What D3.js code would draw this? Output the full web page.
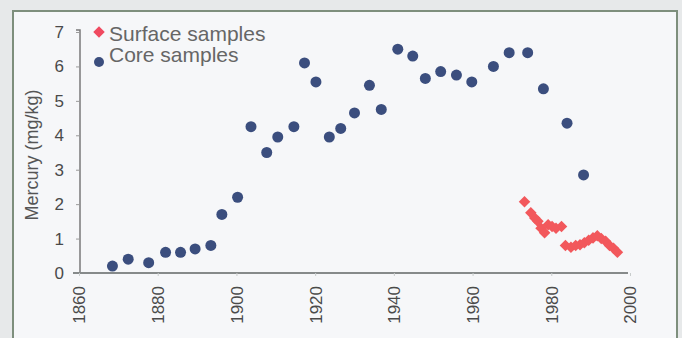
<!DOCTYPE html>
<html>
<head>
<meta charset="utf-8">
<script src="https://cdnjs.cloudflare.com/ajax/libs/d3/7.8.5/d3.min.js"></script>
<style>
  body { margin: 0; background: #e7e9ea; }
  text { font-family: "Liberation Sans", Arial, sans-serif; }
</style>
</head>
<body>
<div class="chart"></div>
<script>
// core samples (year, mercury mg/kg)
var coreYears = [1868.5, 1872.5, 1877.7, 1882, 1885.8, 1889.5, 1893.5, 1896.3, 1900.3, 1903.7,
  1907.7, 1910.5, 1914.6, 1917.3, 1920.2, 1923.6, 1926.5, 1930, 1933.8, 1936.8,
  1941, 1944.8, 1948, 1951.9, 1955.9, 1959.8, 1965.3, 1969.3, 1974, 1978, 1984, 1988.2];
var coreValues = [0.2, 0.4, 0.3, 0.6, 0.6, 0.7, 0.8, 1.7, 2.2, 4.25,
  3.5, 3.95, 4.25, 6.1, 5.55, 3.95, 4.2, 4.65, 5.45, 4.75,
  6.5, 6.3, 5.65, 5.85, 5.75, 5.55, 6.0, 6.4, 6.4, 5.35, 4.35, 2.85];

// surface samples
var surfaceYears = [1973.2, 1974.8, 1975.8, 1976.6, 1977.4, 1978.3, 1979.2, 1980.2, 1981.2, 1982.6,
  1983.6, 1985, 1986.2, 1987.3, 1988.4, 1989.5, 1990.6, 1991.7, 1992.7, 1993.8,
  1994.8, 1995.8, 1996.8];
var surfaceValues = [2.07, 1.75, 1.6, 1.5, 1.3, 1.17, 1.4, 1.35, 1.3, 1.35,
  0.8, 0.75, 0.8, 0.82, 0.88, 0.95, 1.02, 1.08, 1.0, 0.92,
  0.8, 0.72, 0.6];

var yearTicks = [1860, 1880, 1900, 1920, 1940, 1960, 1980, 2000];
var valueTicks = [0, 1, 2, 3, 4, 5, 6, 7];

var svgWidth = 682;
var svgHeight = 338;

var svg = d3.select(".chart")
  .append("svg")
  .attr("width", svgWidth)
  .attr("height", svgHeight)
  .style("display", "block");

// outer frame
svg.append("rect")
  .attr("x", 13)
  .attr("y", 11)
  .attr("width", 664)
  .attr("height", 340)
  .attr("fill", "#f6f7f9")
  .attr("stroke", "#7e8f7d")
  .attr("stroke-width", 2);

var xScale = d3.scaleLinear()
  .domain([1860, 2000])
  .range([79, 630]);

var yScale = d3.scaleLinear()
  .domain([0, 7])
  .range([273, 32]);

// y axis
var yAxis = d3.axisLeft(yScale)
  .tickValues(valueTicks)
  .tickSize(4)
  .tickPadding(12)
  .tickFormat(d3.format("d"));

var yGroup = svg.append("g")
  .attr("transform", "translate(80, 0)")
  .call(yAxis);

yGroup.select(".domain")
  .attr("d", "M-4,30H0V273")
  .attr("stroke", "#7a7a7a")
  .attr("stroke-width", 1.5);

yGroup.selectAll(".tick line").attr("stroke", "#9a9a9a");
yGroup.selectAll(".tick text")
  .attr("fill", "#4a4a4a")
  .style("font-size", "17px");

// x axis
var xAxis = d3.axisBottom(xScale)
  .tickValues(yearTicks)
  .tickSize(3)
  .tickFormat(d3.format("d"));

var xGroup = svg.append("g")
  .attr("transform", "translate(0, 273)")
  .call(xAxis);

xGroup.select(".domain")
  .attr("d", "M73,0H628")
  .attr("stroke", "#868a8a")
  .attr("stroke-width", 2);

xGroup.selectAll(".tick line").attr("stroke", "#c8cccc");
xGroup.selectAll(".tick text")
  .attr("transform", "rotate(-90)")
  .attr("text-anchor", "end")
  .attr("x", -13)
  .attr("y", 0)
  .attr("dy", "0.35em")
  .attr("fill", "#4a4a4a")
  .style("font-size", "17px");

// y axis label
svg.append("text")
  .attr("transform", "translate(38, 155) rotate(-90)")
  .attr("text-anchor", "middle")
  .attr("fill", "#555")
  .style("font-size", "18px")
  .text("Mercury (mg/kg)");

// core samples
var core = coreYears.map(function(y, i) { return { year: y, value: coreValues[i] }; });
svg.selectAll("circle.core")
  .data(core)
  .enter()
  .append("circle")
  .attr("class", "core")
  .attr("cx", d => xScale(d.year))
  .attr("cy", d => yScale(d.value))
  .attr("r", 5.5)
  .attr("fill", "#3b4e7e");

// surface samples
var surface = surfaceYears.map(function(y, i) { return { year: y, value: surfaceValues[i] }; });
var diamond = d3.symbol().type(d3.symbolDiamond2).size(85);
svg.selectAll("path.surface")
  .data(surface)
  .enter()
  .append("path")
  .attr("class", "surface")
  .attr("transform", d => `translate(${xScale(d.year)}, ${yScale(d.value)})`)
  .attr("d", diamond)
  .attr("fill", "#f2585c");

// legend
svg.append("path")
  .attr("transform", "translate(99, 32)")
  .attr("d", diamond)
  .attr("fill", "#f04a60");

svg.append("text")
  .attr("x", 109)
  .attr("y", 41)
  .attr("fill", "#666")
  .style("font-size", "21px")
  .text("Surface samples");

svg.append("circle")
  .attr("cx", 99)
  .attr("cy", 62)
  .attr("r", 5)
  .attr("fill", "#3b4e7e");

svg.append("text")
  .attr("x", 109)
  .attr("y", 62)
  .attr("fill", "#666")
  .style("font-size", "21px")
  .text("Core samples");
</script>
</body>
</html>
